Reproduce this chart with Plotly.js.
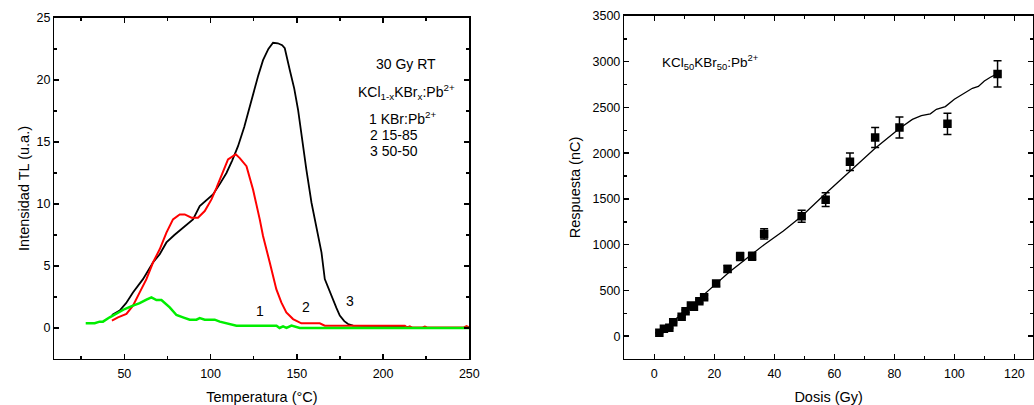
<!DOCTYPE html>
<html><head><meta charset="utf-8">
<script src="https://cdn.plot.ly/plotly-3.0.1.min.js"></script>
<style>body{margin:0;padding:0;background:#fff}#chart{width:1034px;height:405px}</style>
</head><body><div id="chart"></div>
<script>
// Left panel: TL glow curves
const blackT = [42.8,47.3,51,55,60.8,66.6,70.5,74.4,79,84,89.8,93.7,97.5,101.4,105.3,109.2,112.5,115.9,119.5,122.7,124.6,127.5,130.4,133.5,136.2,139,141.5,143,145.9,148.5,150.7,152.7,155.5,158.5,161.5,164.3,166.2,168.5,171,173,174.9,177.5,179.7,182.6,190,200,210,216];
const blackI = [1.05,1.4,2.0,2.87,3.94,5.28,5.95,6.9,7.5,8.1,8.76,9.83,10.3,10.77,11.6,12.5,13.5,14.66,16.2,17.9,18.9,20.3,21.6,22.5,23.0,22.96,22.8,22.56,20.8,19.3,17.6,15.46,12.8,10.1,8.1,6.08,3.94,3.1,2.33,1.6,1.0,0.55,0.32,0.19,0.17,0.16,0.15,0.05];
const redT = [42.8,46.3,51.2,55,58.9,62.8,66.6,70.5,74.4,78.2,82.1,85,88.9,92.7,96.6,100.5,103.4,106.5,110.1,114.6,116.9,120.8,124.6,128.5,130.4,134.3,138.1,141,143.9,147.8,152.6,163.3,166.2,190,212.6,214,215.5,217,222.5,224.2,226,246.5,248.4,250];
const redI = [0.59,0.86,1.13,1.8,2.87,3.94,5.28,6.35,7.69,8.76,9.16,9.16,8.9,8.9,9.43,10.37,11.3,12.4,13.6,14.0,13.7,13.05,11.17,8.76,7.42,5.28,3.13,2.06,1.26,0.72,0.38,0.38,0.19,0.19,0.19,0.04,0.13,0.03,0.03,0.12,0.03,0.03,0.15,0.05];
const greenT = [27.6,32.8,35.7,37.6,41.5,46.3,50.2,55,58.9,62.8,65.7,68.6,71.5,76.3,80.2,84,87.9,91.8,93.7,96.6,102.4,105.3,109.2,115,138.2,140,142,144,146.9,149.8,151.7,200,250];
const greenI = [0.38,0.38,0.51,0.51,0.86,1.26,1.53,1.8,2.0,2.28,2.47,2.25,2.25,1.66,1.05,0.86,0.67,0.67,0.8,0.67,0.67,0.51,0.4,0.19,0.19,0,0.13,0,0.19,0.1,0,0,0];
const curveLabels = ["1","2","3"];
const curveLabelT = [128.9,155.2,180.7];
const curveLabelI = [0.55,0.9,1.35];
const legendLines = ["1 KBr:Pb<sup>2+</sup>","2 15-85","3 50-50"];

// Right panel: dose response
const dose = [1.67,3.2,5,6.3,9.1,10.4,12.2,13.2,15,16.6,20.6,24.4,28.6,32.6,36.6,49.1,57.1,65.2,73.6,81.7,97.7,114.4];
const resp = [36,80,91,153,211,273,335,320,382,426,575,735,870,873,1117,1310,1492,1906,2172,2281,2321,2867];
const respErr = [2,4,5,8,11,14,17,16,19,21,29,37,44,44,56,66,75,95,109,114,116,143];
const fitDose = [0.8,5,10,15,20,25,30,36.6,43,49.1,57.1,65.2,73.6,81.7,86,89,92,94,97,100,103,106,108,110,112,114.4];
const fitResp = [20,130,265,410,560,700,830,1000,1150,1310,1560,1800,2055,2270,2370,2410,2430,2480,2510,2590,2650,2710,2730,2790,2830,2870];

const FONT = "Liberation Sans, Arial, sans-serif";
const traces = [
  {x: blackT, y: blackI, type:'scatter', mode:'lines', line:{color:'#000', width:1.8}, xaxis:'x', yaxis:'y'},
  {x: redT, y: redI, type:'scatter', mode:'lines', line:{color:'#ff0000', width:2}, xaxis:'x', yaxis:'y'},
  {x: greenT, y: greenI, type:'scatter', mode:'lines', line:{color:'#00ee00', width:2.5}, xaxis:'x', yaxis:'y'},
  {x: fitDose, y: fitResp, type:'scatter', mode:'lines', line:{color:'#000', width:1.3}, xaxis:'x2', yaxis:'y2'},
  {x: dose, y: resp, type:'scatter', mode:'markers', marker:{symbol:'square', size:8.5, color:'#000'},
   error_y:{type:'data', array: respErr, visible:true, color:'#000', thickness:1.5, width:4}, xaxis:'x2', yaxis:'y2'}
];

const axisCommon = {
  showline:true, linecolor:'#000', linewidth:1.5, mirror:'allticks',
  ticks:'inside', ticklen:5, tickwidth:1.5, tickcolor:'#000',
  showgrid:false, zeroline:false,
  tickfont:{family:FONT, size:12.5, color:'#000'},
  title:{font:{family:FONT, size:14.5, color:'#000'}}
};
function ax(extra){ const o = JSON.parse(JSON.stringify(axisCommon)); return Object.assign(o, extra, {title:Object.assign({}, axisCommon.title, extra.title||{})}); }

const annotations = [];
for (let i=0;i<curveLabels.length;i++){
  annotations.push({xref:'x', yref:'y', x:curveLabelT[i], y:curveLabelI[i], text:curveLabels[i], showarrow:false,
    font:{family:FONT, size:14, color:'#000'}, yanchor:'bottom'});
}
annotations.push({xref:'x', yref:'y', x:213, y:21.3, text:'30 Gy RT', showarrow:false, font:{family:FONT,size:14,color:'#000'}});
annotations.push({xref:'x', yref:'y', x:213.5, y:19.0, text:'KCl<sub>1-x</sub>KBr<sub>x</sub>:Pb<sup>2+</sup>', showarrow:false, font:{family:FONT,size:14,color:'#000'}});
const legY = [16.9, 15.6, 14.3];
for (let i=0;i<legendLines.length;i++){
  annotations.push({xref:'x', yref:'y', x:i===0?190.5:191.5, y:legY[i], text:legendLines[i], xanchor:'left', showarrow:false, font:{family:FONT,size:14,color:'#000'}});
}
annotations.push({xref:'x2', yref:'y2', x:2.0, y:3000, text:'KCl<sub>50</sub>KBr<sub>50</sub>:Pb<sup>2+</sup>', xanchor:'left', showarrow:false, font:{family:FONT,size:13.5,color:'#000'}});

const layout = {
  width:1034, height:405, margin:{l:0,r:0,t:0,b:0}, showlegend:false,
  paper_bgcolor:'#fff', plot_bgcolor:'#fff',
  xaxis: ax({domain:[0.0527,0.4539], range:[9.5,250], dtick:50, tick0:0, anchor:'y',
    minor:{ticks:'inside', ticklen:3, tickcolor:'#000', tickwidth:1.5, dtick:25, tick0:0},
    ticklabelstandoff:3, title:{text:'Temperatura (°C)', standoff:11}}),
  yaxis: ax({domain:[0.1136,0.9556], range:[-2.5,25], dtick:5, anchor:'x',
    minor:{ticks:'inside', ticklen:3, tickcolor:'#000', tickwidth:1.5, dtick:2.5, tick0:0},
    title:{text:'Intensidad TL (u.a.)', standoff:3}}),
  xaxis2: ax({domain:[0.6038,0.999], range:[-10,126.2], dtick:20, tick0:0, anchor:'y2',
    minor:{ticks:'inside', ticklen:3, tickcolor:'#000', tickwidth:1.5, dtick:10, tick0:0},
    ticklabelstandoff:3, title:{text:'Dosis (Gy)', standoff:11}}),
  yaxis2: ax({domain:[0.1136,0.9605], range:[-250,3500], dtick:500, anchor:'x2',
    minor:{ticks:'inside', ticklen:3, tickcolor:'#000', tickwidth:1.5, dtick:250, tick0:0},
    title:{text:'Respuesta (nC)', standoff:8}}),
  annotations: annotations
};
Plotly.newPlot('chart', traces, layout, {staticPlot:true});
</script></body></html>
